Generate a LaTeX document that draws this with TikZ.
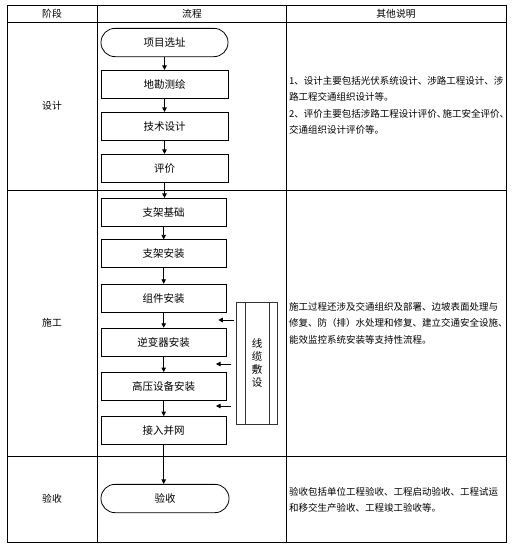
\documentclass[tikz,border=0pt]{standalone}
\usepackage{fontspec}
\setmainfont{Noto Sans CJK SC}
\usetikzlibrary{arrows.meta}
\begin{document}
\begin{tikzpicture}[x=1pt,y=-1pt,
  box/.style={draw, line width=0.8pt, inner sep=0pt, minimum height=28.3pt, font=\fontsize{10.5}{12}\selectfont},
  term/.style={box, rounded corners=14pt},
  flow/.style={line width=0.8pt, -{Triangle[length=4.5pt,width=4.5pt]}},
  grid/.style={line width=1pt},
  note/.style={anchor=west, align=left, inner sep=0pt, font=\fontsize{9.5}{16.4}\selectfont},
  lbl/.style={inner sep=0pt, font=\fontsize{9.8}{12}\selectfont}]
\useasboundingbox (0,0) rectangle (514,546);
% table
\draw[grid] (7,5) rectangle (506,542);
\draw[grid] (7,22) -- (506,22);
\draw[grid] (7,190.5) -- (506,190.5);
\draw[grid] (7,456) -- (506,456);
\draw[grid] (97,5) -- (97,542);
\draw[grid] (286,5) -- (286,542);
% headers and stage labels
\node[lbl] (h1) at (52,13.7) {阶段};
\node[lbl] (h2) at (192,13.7) {流程};
\node[lbl] (h3) at (396,13.7) {其他说明};
\node[lbl] (s1) at (52,106) {设计};
\node[lbl] (s2) at (52,322.7) {施工};
\node[lbl] (s3) at (52,499) {验收};
% design flow
\node[term, minimum width=127pt] (p1) at (164.5,42.5) {项目选址};
\node[box, minimum width=127pt] (p2) at (164.5,84.5) {地勘测绘};
\node[box, minimum width=127pt] (p3) at (164.5,126.5) {技术设计};
\node[box, minimum width=127pt] (p4) at (164.5,168.5) {评价};
% construction flow
\node[box, minimum width=125.3pt, minimum height=28pt] (c1) at (163.7,212.3) {支架基础};
\node[box, minimum width=125.3pt, minimum height=28pt] (c2) at (163.7,253.8) {支架安装};
\node[box, minimum width=125.3pt, minimum height=28pt] (c3) at (163.7,298.2) {组件安装};
\node[box, minimum width=125.3pt, minimum height=28pt] (c4) at (163.7,342.2) {逆变器安装};
\node[box, minimum width=125.3pt, minimum height=28pt] (c5) at (163.7,386.5) {高压设备安装};
\node[box, minimum width=125.3pt, minimum height=28pt] (c6) at (163.7,430.5) {接入并网};
% acceptance
\node[term, minimum width=128pt] (a1) at (165,498.5) {验收};
% cable laying box
\node[draw=black!80, line width=0.8pt, minimum width=40.6pt, minimum height=122.3pt, inner sep=0pt,
      align=center, font=\fontsize{10.5}{13}\selectfont] (cable) at (257,363.2) {线\\缆\\敷\\设};
\draw[black!80, line width=0.8pt] ([xshift=9pt]cable.north west) -- ([xshift=9pt]cable.south west);
\draw[black!80, line width=0.8pt] ([xshift=-8.6pt]cable.north east) -- ([xshift=-8.6pt]cable.south east);
% main connectors
\draw[flow] (p1) -- (p2);
\draw[flow] (p2) -- (p3);
\draw[flow] (p3) -- (p4);
\draw[flow] (p4.south) -- (p4.south |- c1.north);
\draw[flow] (c1) -- (c2);
\draw[flow] (c2) -- (c3);
\draw[flow] (c3) -- (c4);
\draw[flow] (c4) -- (c5);
\draw[flow] (c5) -- (c6);
\draw[flow] (c6.south) -- (c6.south |- a1.north);
% cable arrows
\coordinate (e1) at (218.3,320);
\coordinate (e2) at (216,364);
\coordinate (e3) at (216,406);
\draw[flow] ([xshift=-2pt]cable.west |- e1) -- (e1);
\draw[flow] ([xshift=-5pt]cable.west |- e2) -- (e2);
\draw[flow] ([xshift=-5pt]cable.west |- e3) -- (e3);
% notes
\node[note] (n1) at (289,105.5) {1、设计主要包括光伏系统设计、涉路工程设计、涉\\路工程交通组织设计等。\\2、评价主要包括涉路工程设计评价、\kern-0.4em施工安全评价、\\交通组织设计评价等。};
\node[note] (n2) at (289,323.3) {施工过程还涉及交通组织及部署、边坡表面处理与\\修复、防（排）水处理和修复、建立交通安全设施、\\能效监控系统安装等支持性流程。};
\node[note] (n3) at (289,500) {验收包括单位工程验收、工程启动验收、工程试运\\和移交生产验收、工程竣工验收等。};
\end{tikzpicture}
\end{document}
